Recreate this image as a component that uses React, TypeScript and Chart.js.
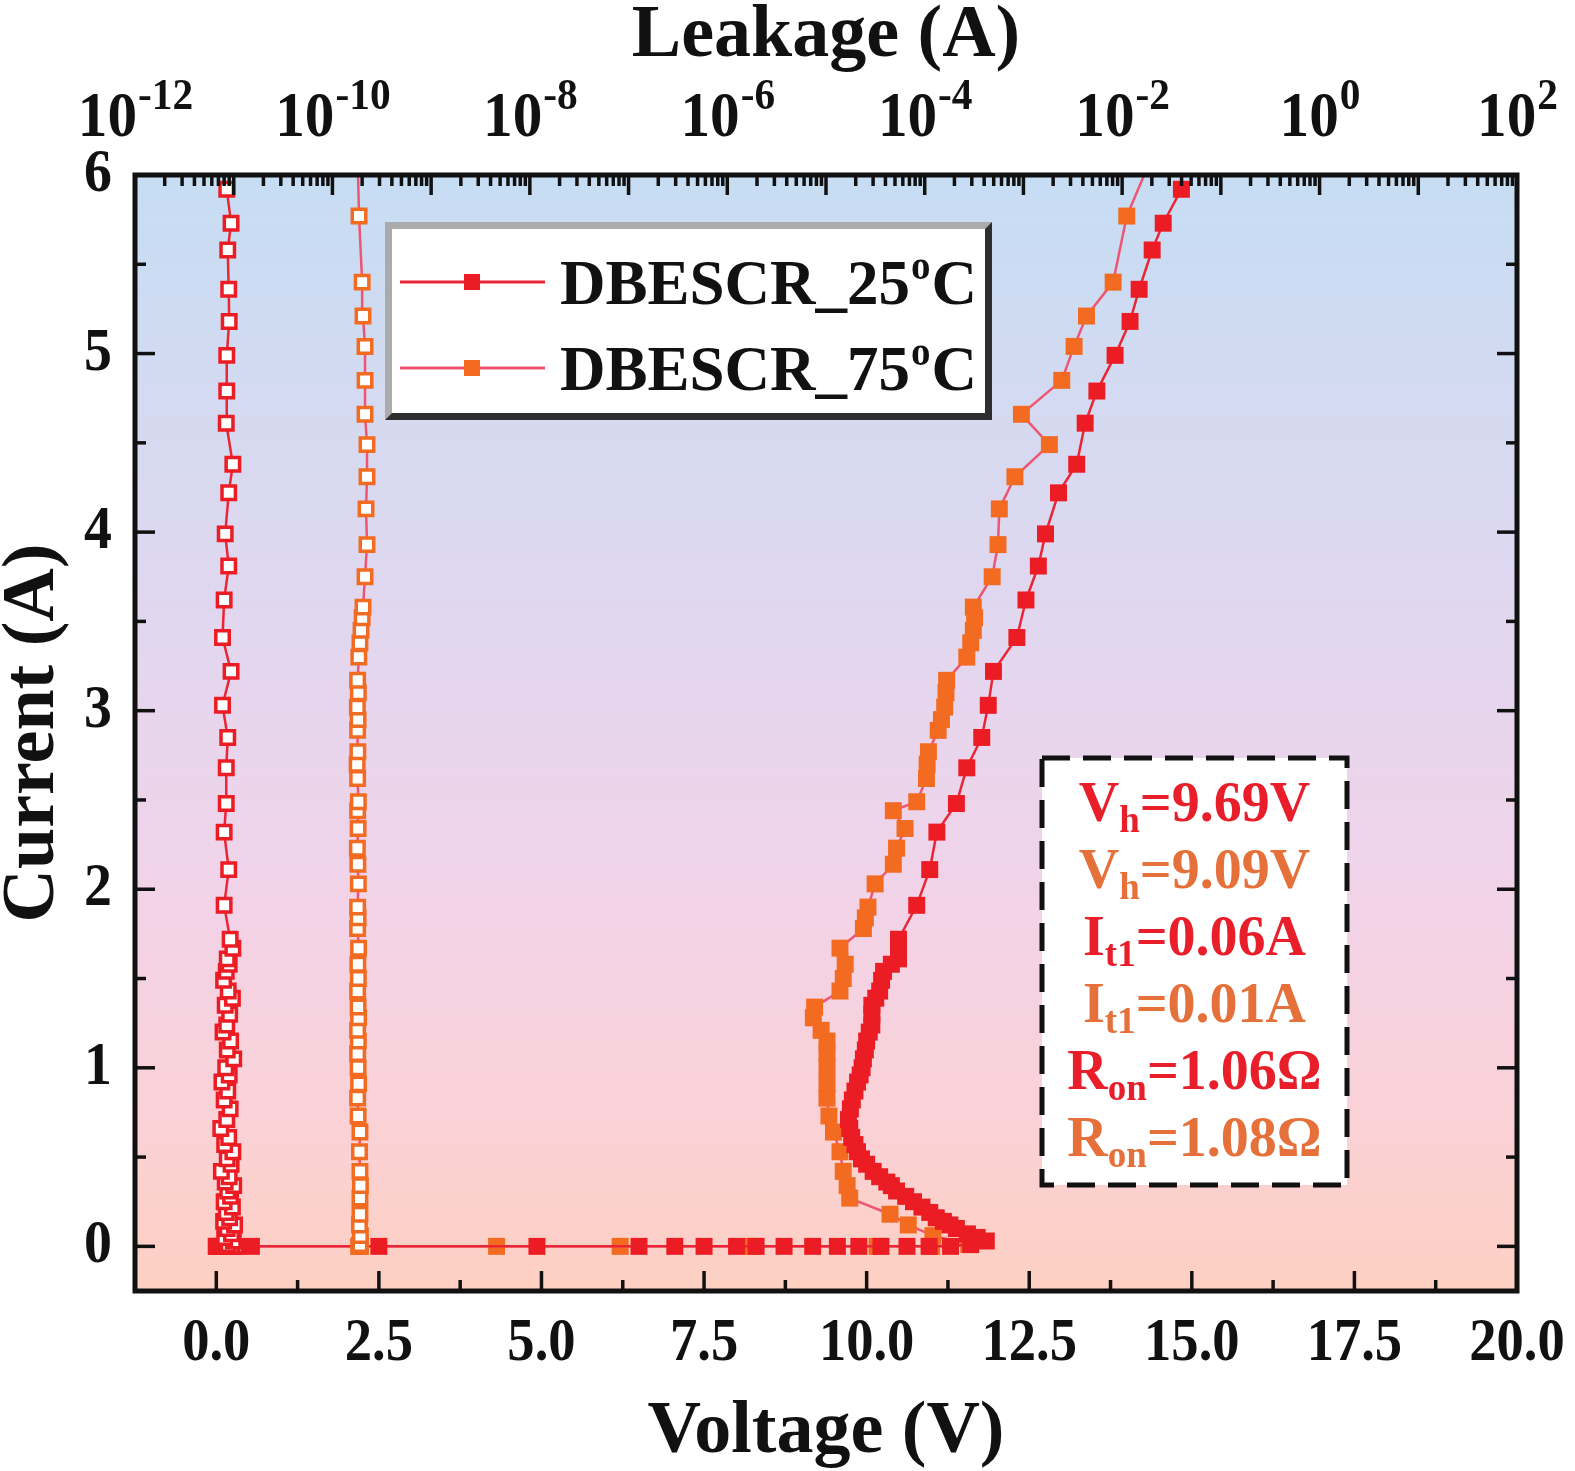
import { useEffect, useRef } from "react"
import { Chart, registerables } from "chart.js"

Chart.register(...registerables)

const SERIF = '"Liberation Serif", "Times New Roman", serif'
const RED = "#ec1c24"
const ORANGE = "#f26b21"
const RED_LINE = "#ea2636"
const PINK_LINE = "#ef5573"
const RED_TEXT = "#e81f2b"
const ORANGE_TEXT = "#e5703a"

// DBESCR at 25°C: TLP voltage (V), current (A), leakage after each pulse (A)
const volt25 = [
  0.0, 0.05, 0.54, 2.5, 4.93, 6.5, 7.05, 7.5, 8.0, 8.3,
  8.73, 9.17, 9.55, 9.88, 10.22, 10.62, 10.96, 11.29, 11.6, 11.84,
  11.7, 11.55, 11.38, 11.28, 11.18, 11.07, 10.97, 10.85, 10.72, 10.6,
  10.46, 10.38, 10.31, 10.2, 10.1, 10.0, 9.92, 9.86, 9.82, 9.77,
  9.74, 9.72, 9.75, 9.78, 9.82, 9.86, 9.9, 9.93, 9.95, 9.98,
  10.0, 10.04, 10.08, 10.08, 10.08, 10.14, 10.2, 10.23, 10.26, 10.38,
  10.49, 10.49, 10.49, 10.77, 10.97, 11.08, 11.38, 11.54, 11.77, 11.87,
  11.95, 12.31, 12.45, 12.64, 12.75, 12.95, 13.23, 13.36, 13.54, 13.82,
  14.05, 14.19, 14.39, 14.56, 14.84,
]
const curr25 = [
  0, 0, 0, 0, 0, 0, 0, 0, 0, 0,
  0, 0, 0, 0, 0, 0, 0, 0, 0.01, 0.03,
  0.05, 0.07, 0.1, 0.12, 0.14, 0.16, 0.19, 0.22, 0.25, 0.28,
  0.31, 0.34, 0.36, 0.39, 0.42, 0.46, 0.49, 0.53, 0.57, 0.61,
  0.66, 0.71, 0.77, 0.82, 0.87, 0.92, 0.96, 1.0, 1.05, 1.1,
  1.15, 1.2, 1.24, 1.3, 1.35, 1.39, 1.43, 1.49, 1.54, 1.58,
  1.61, 1.67, 1.72, 1.91, 2.11, 2.32, 2.48, 2.68, 2.85, 3.03,
  3.22, 3.41, 3.62, 3.81, 3.99, 4.22, 4.38, 4.61, 4.79, 4.99,
  5.18, 5.36, 5.58, 5.73, 5.92,
]
const leak25 = [
  8.4e-12, 7.6e-12, 9.6e-12, 8.9e-12, 1.0e-11, 8.2e-12, 9.2e-12, 7.3e-12, 8.7e-12, 9.8e-12,
  8.0e-12, 9.4e-12, 8.5e-12, 1.05e-11, 7.8e-12, 9.0e-12, 8.3e-12, 9.6e-12, 8.8e-12, 9.9e-12,
  8.1e-12, 9.5e-12, 8.6e-12, 1.02e-11, 7.9e-12, 9.1e-12, 8.4e-12, 9.7e-12, 8.0e-12, 9.3e-12,
  8.7e-12, 1.0e-11, 8.2e-12, 9.0e-12, 7.5e-12, 9.4e-12, 8.6e-12, 9.8e-12, 8.1e-12, 8.9e-12,
  7.4e-12, 8.5e-12, 9.2e-12, 8.0e-12, 8.7e-12, 7.6e-12, 9.0e-12, 8.3e-12, 1.0e-11, 8.6e-12,
  9.3e-12, 7.8e-12, 8.5e-12, 9.1e-12, 8.2e-12, 9.7e-12, 8.8e-12, 7.9e-12, 8.4e-12, 9.0e-12,
  8.6e-12, 9.8e-12, 9.2e-12, 8.0e-12, 8.9e-12, 8.0e-12, 8.4e-12, 8.4e-12, 8.7e-12, 7.7e-12,
  9.4e-12, 7.7e-12, 8.0e-12, 8.9e-12, 8.2e-12, 8.9e-12, 9.8e-12, 8.4e-12, 8.5e-12, 8.5e-12,
  9.0e-12, 8.9e-12, 8.7e-12, 9.4e-12, 8.5e-12,
]

// DBESCR at 75°C
const volt75 = [
  0.0, 4.31, 6.21, 8.24, 10.16, 11.0, 11.57, 11.02, 10.64, 10.36,
  9.74, 9.7, 9.64, 9.59, 9.49, 9.42, 9.39, 9.39, 9.39, 9.39,
  9.39, 9.3, 9.18, 9.2, 9.59, 9.64, 9.67, 9.59, 9.95, 9.98,
  10.02, 10.13, 10.41, 10.46, 10.59, 10.41, 10.77, 10.92, 10.93, 10.95,
  11.1, 11.15, 11.2, 11.22, 11.23, 11.54, 11.6, 11.64, 11.66, 11.64,
  11.93, 12.02, 12.04, 12.28, 12.81, 12.38, 13.0, 13.19, 13.38, 13.79,
  14.0, 14.5,
]
const curr75 = [
  0, 0, 0, 0, 0, 0, 0.01, 0.06, 0.12, 0.18,
  0.27, 0.34, 0.42, 0.53, 0.64, 0.73, 0.83, 0.91, 1.0, 1.08,
  1.15, 1.21, 1.28, 1.34, 1.43, 1.5, 1.58, 1.67, 1.78, 1.84,
  1.9, 2.03, 2.14, 2.23, 2.34, 2.44, 2.49, 2.62, 2.7, 2.77,
  2.89, 2.95, 3.02, 3.1, 3.17, 3.3, 3.38, 3.45, 3.52, 3.58,
  3.75, 3.93, 4.13, 4.31, 4.49, 4.66, 4.85, 5.04, 5.21, 5.4,
  5.77, 6.2,
]
const leak75 = [
  1.9e-10, 1.85e-10, 1.9e-10, 1.88e-10, 1.92e-10, 1.86e-10, 1.9e-10, 1.92e-10, 1.88e-10, 1.9e-10,
  1.9e-10, 1.92e-10, 1.9e-10, 1.88e-10, 1.9e-10, 1.82e-10, 1.8e-10, 1.84e-10, 1.82e-10, 1.8e-10,
  1.83e-10, 1.8e-10, 1.84e-10, 1.82e-10, 1.8e-10, 1.83e-10, 1.81e-10, 1.84e-10, 1.8e-10, 1.82e-10,
  1.8e-10, 1.83e-10, 1.81e-10, 1.79e-10, 1.82e-10, 1.8e-10, 1.83e-10, 1.8e-10, 1.78e-10, 1.81e-10,
  1.8e-10, 1.82e-10, 1.79e-10, 1.83e-10, 1.8e-10, 1.85e-10, 1.9e-10, 1.95e-10, 2.0e-10, 2.04e-10,
  2.14e-10, 2.24e-10, 2.19e-10, 2.24e-10, 2.24e-10, 2.14e-10, 2.14e-10, 2.14e-10, 2.04e-10, 2.0e-10,
  1.86e-10, 1.78e-10,
]

const voltageTicks = [0, 2.5, 5, 7.5, 10, 12.5, 15, 17.5, 20]
const currentTicks = [0, 1, 2, 3, 4, 5, 6]
const leakageExponents = [-12, -10, -8, -6, -4, -2, 0, 2]

const legendItems = [
  { label: "DBESCR_25", sup: "o", tail: "C", marker: RED, line: RED_LINE },
  { label: "DBESCR_75", sup: "o", tail: "C", marker: ORANGE, line: PINK_LINE },
]

const annotationLines = [
  { base: "V", sub: "h", rest: "=9.69V", color: RED_TEXT },
  { base: "V", sub: "h", rest: "=9.09V", color: ORANGE_TEXT },
  { base: "I", sub: "t1", rest: "=0.06A", color: RED_TEXT },
  { base: "I", sub: "t1", rest: "=0.01A", color: ORANGE_TEXT },
  { base: "R", sub: "on", rest: "=1.06\u03a9", color: RED_TEXT },
  { base: "R", sub: "on", rest: "=1.08\u03a9", color: ORANGE_TEXT },
]

const toPoints = (xs: number[], ys: number[]) => xs.map((x, i) => ({ x, y: ys[i] }))

const font = (px: number) => `bold ${px}px ${SERIF}`

// tick labels in the figure are a little narrower than plain Times
function condensed(ctx: CanvasRenderingContext2D, text: string, x: number, y: number, sx: number) {
  ctx.save()
  ctx.translate(x, y)
  ctx.scale(sx, 1)
  ctx.fillText(text, 0, 0)
  ctx.restore()
}

const decorPlugin = {
  id: "decor",
  beforeDatasetsDraw(chart: any) {
    const { ctx, chartArea } = chart
    const { left, top, right, bottom } = chartArea
    const g = ctx.createLinearGradient(0, top, 0, bottom)
    g.addColorStop(0, "#c6ddf3")
    g.addColorStop(0.4, "#e1d7ef")
    g.addColorStop(0.65, "#f2d3e8")
    g.addColorStop(0.85, "#fad1d6")
    g.addColorStop(1, "#fdd0c2")
    ctx.save()
    ctx.fillStyle = g
    ctx.fillRect(left, top, right - left, bottom - top)
    ctx.restore()
  },
  afterDraw(chart: any) {
    const { ctx, chartArea } = chart
    const { left, top, right, bottom } = chartArea
    const xs = chart.scales.x
    const ys = chart.scales.y
    const xt = chart.scales.x2
    const MAJOR = 20
    const MINOR = 11

    ctx.save()
    ctx.strokeStyle = "#111"
    ctx.lineWidth = 3.5
    const seg = (x1: number, y1: number, x2: number, y2: number) => {
      ctx.beginPath()
      ctx.moveTo(x1, y1)
      ctx.lineTo(x2, y2)
      ctx.stroke()
    }

    // current ticks, left and right
    currentTicks.forEach((v, i) => {
      const y = ys.getPixelForValue(v)
      seg(left, y, left + MAJOR, y)
      seg(right, y, right - MAJOR, y)
      if (i < currentTicks.length - 1) {
        const ym = ys.getPixelForValue((v + currentTicks[i + 1]) / 2)
        seg(left, ym, left + MINOR, ym)
        seg(right, ym, right - MINOR, ym)
      }
    })

    // voltage ticks, bottom
    voltageTicks.forEach((v, i) => {
      const x = xs.getPixelForValue(v)
      seg(x, bottom, x, bottom - MAJOR)
      if (i < voltageTicks.length - 1) {
        const xm = xs.getPixelForValue((v + voltageTicks[i + 1]) / 2)
        seg(xm, bottom, xm, bottom - MINOR)
      }
    })

    // leakage ticks, top (log)
    const eMin = leakageExponents[0]
    const eMax = leakageExponents[leakageExponents.length - 1]
    for (let e = eMin; e <= eMax; e++) {
      for (let m = 1; m <= 9; m++) {
        if (e === eMax && m > 1) break
        const x = xt.getPixelForValue(m * Math.pow(10, e))
        seg(x, top, x, top + (m === 1 ? MAJOR : MINOR))
      }
    }

    // frame
    ctx.lineWidth = 5
    ctx.strokeRect(left, top, right - left, bottom - top)

    // tick labels
    ctx.fillStyle = "#111"
    ctx.font = font(62)
    ctx.textAlign = "right"
    ctx.textBaseline = "middle"
    currentTicks.forEach((v) => condensed(ctx, String(v), 112, ys.getPixelForValue(v), 0.9))
    ctx.textAlign = "center"
    voltageTicks.forEach((v) => condensed(ctx, v.toFixed(1), xs.getPixelForValue(v), 1344, 0.88))

    ctx.textBaseline = "alphabetic"
    ctx.textAlign = "left"
    const sx = 0.94
    leakageExponents.forEach((e) => {
      const x = xt.getPixelForValue(Math.pow(10, e))
      ctx.font = font(63)
      const wb = ctx.measureText("10").width * sx
      ctx.font = font(44)
      const exp = String(e)
      const we = ctx.measureText(exp).width * sx
      const x0 = x - (wb + we) / 2
      ctx.font = font(63)
      condensed(ctx, "10", x0, 136, sx)
      ctx.font = font(44)
      condensed(ctx, exp, x0 + wb + 1, 109, sx)
    })

    // axis titles
    ctx.font = font(74)
    ctx.textAlign = "center"
    ctx.fillText("Voltage (V)", (left + right) / 2, 1452)
    ctx.fillText("Leakage (A)", (left + right) / 2, 56)
    ctx.save()
    ctx.translate(53, (top + bottom) / 2)
    ctx.rotate(-Math.PI / 2)
    ctx.fillText("Current (A)", 0, 0)
    ctx.restore()

    // legend box
    const lx = 385, ly = 222, lw = 607, lh = 198, b = 7
    ctx.fillStyle = "#ababab"
    ctx.fillRect(lx, ly, lw, lh)
    ctx.fillStyle = "#2e2e2e"
    ctx.beginPath()
    ctx.moveTo(lx + lw, ly)
    ctx.lineTo(lx + lw, ly + lh)
    ctx.lineTo(lx, ly + lh)
    ctx.lineTo(lx + b, ly + lh - b)
    ctx.lineTo(lx + lw - b, ly + lh - b)
    ctx.lineTo(lx + lw - b, ly + b)
    ctx.closePath()
    ctx.fill()
    ctx.fillStyle = "#fff"
    ctx.fillRect(lx + b, ly + b, lw - 2 * b, lh - 2 * b)

    legendItems.forEach((item, i) => {
      const y = 282 + i * 86
      ctx.strokeStyle = item.line
      ctx.lineWidth = 3
      seg(400, y, 545, y)
      ctx.fillStyle = item.marker
      ctx.fillRect(464, y - 8, 16, 16)
      ctx.fillStyle = "#111"
      ctx.textAlign = "left"
      ctx.font = font(63)
      const base = y + 22
      ctx.fillText(item.label, 560, base)
      let x = 560 + ctx.measureText(item.label).width
      ctx.font = font(39)
      ctx.fillText(item.sup, x + 1, base - 25)
      x += ctx.measureText(item.sup).width + 2
      ctx.font = font(63)
      ctx.fillText(item.tail, x, base)
    })

    // parameter box
    const ax = 1042, ay = 758, aw = 305, ah = 427
    ctx.fillStyle = "#fff"
    ctx.fillRect(ax, ay, aw, ah)
    ctx.strokeStyle = "#111"
    ctx.lineWidth = 5
    ctx.setLineDash([28, 13])
    ctx.strokeRect(ax, ay, aw, ah)
    ctx.setLineDash([])

    annotationLines.forEach((ln, i) => {
      const base = 821 + i * 67
      ctx.font = font(56)
      const w1 = ctx.measureText(ln.base).width
      const w3 = ctx.measureText(ln.rest).width
      ctx.font = font(37)
      const w2 = ctx.measureText(ln.sub).width
      let x = ax + aw / 2 - (w1 + w2 + w3) / 2
      ctx.fillStyle = ln.color
      ctx.textAlign = "left"
      ctx.font = font(56)
      ctx.fillText(ln.base, x, base)
      x += w1
      ctx.font = font(37)
      ctx.fillText(ln.sub, x, base + 11)
      x += w2
      ctx.font = font(56)
      ctx.fillText(ln.rest, x, base)
    })

    ctx.restore()
  },
}

export default function App() {
  const canvasRef = useRef<HTMLCanvasElement>(null)
  const chartRef = useRef<Chart | null>(null)

  useEffect(() => {
    document.body.style.margin = "0"
    document.documentElement.style.overflow = "hidden"
    document.body.style.overflow = "hidden"
    if (!canvasRef.current) return
    if (chartRef.current) chartRef.current.destroy()

    const leakStyle = (color: string, line: string) => ({
      xAxisID: "x2",
      showLine: true,
      borderColor: line,
      borderWidth: 2.5,
      pointStyle: "rect" as const,
      pointRadius: 9.5,
      pointBackgroundColor: "#ffffff",
      pointBorderColor: color,
      pointBorderWidth: 3.5,
    })
    const ivStyle = (color: string, line: string) => ({
      xAxisID: "x",
      showLine: true,
      borderColor: line,
      borderWidth: 2.5,
      pointStyle: "rect" as const,
      pointRadius: 12,
      pointBackgroundColor: color,
      pointBorderColor: color,
      pointBorderWidth: 0,
    })

    chartRef.current = new Chart(canvasRef.current, {
      type: "scatter",
      data: {
        datasets: [
          { label: "Leakage 25", data: toPoints(leak25, curr25), ...leakStyle(RED, RED_LINE) },
          { label: "Leakage 75", data: toPoints(leak75, curr75), ...leakStyle(ORANGE, PINK_LINE) },
          { label: "DBESCR_25°C", data: toPoints(volt25, curr25), ...ivStyle(RED, RED_LINE) },
          { label: "DBESCR_75°C", data: toPoints(volt75, curr75), ...ivStyle(ORANGE, PINK_LINE) },
        ],
      },
      options: {
        animation: false,
        responsive: true,
        maintainAspectRatio: false,
        layout: { padding: { left: 0, right: 58, top: 0, bottom: 0 } },
        plugins: { legend: { display: false }, tooltip: { enabled: false } },
        scales: {
          x: {
            type: "linear",
            position: "bottom",
            min: -1.25,
            max: 20,
            grid: { display: false },
            border: { display: false },
            ticks: { display: false },
            afterFit: (s: any) => { s.height = 180 },
          },
          x2: {
            type: "logarithmic",
            position: "top",
            min: 1e-12,
            max: 1e2,
            grid: { display: false },
            border: { display: false },
            ticks: { display: false },
            afterFit: (s: any) => { s.height = 175 },
          },
          y: {
            type: "linear",
            position: "left",
            min: -0.25,
            max: 6,
            grid: { display: false },
            border: { display: false },
            ticks: { display: false },
            afterFit: (s: any) => { s.width = 135 },
          },
        },
      },
      plugins: [decorPlugin],
    })

    return () => {
      if (chartRef.current) {
        chartRef.current.destroy()
        chartRef.current = null
      }
    }
  }, [])

  return (
    <div style={{ width: 1575, height: 1471, position: "relative", background: "#fff" }}>
      <canvas ref={canvasRef} />
    </div>
  )
}
